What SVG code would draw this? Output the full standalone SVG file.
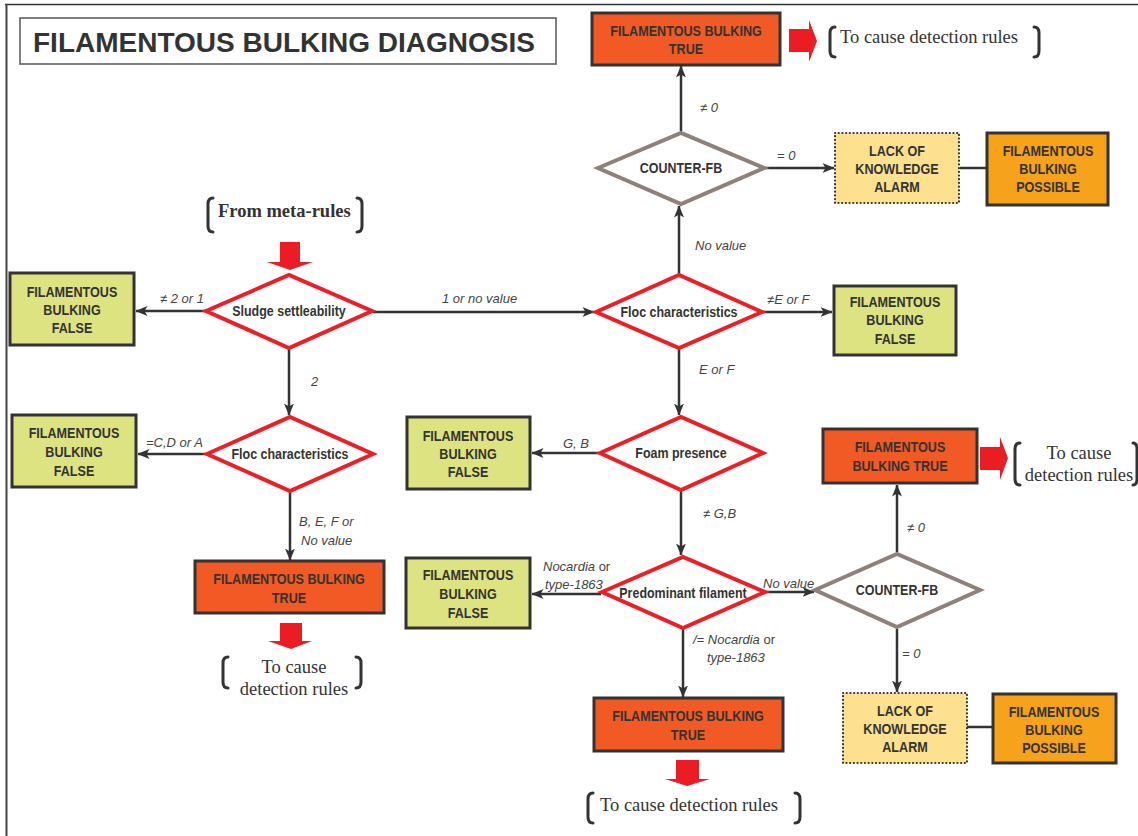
<svg xmlns="http://www.w3.org/2000/svg" width="1138" height="836" viewBox="0 0 1138 836">
  <defs>
    <marker id="arr" markerUnits="userSpaceOnUse" markerWidth="12" markerHeight="10" viewBox="0 0 12 10" refX="11.5" refY="5" orient="auto">
      <path d="M0,0 L12,5 L0,10 L3,5 Z" fill="#333"/>
    </marker>
    <style>
      .box{stroke:#333;stroke-width:3}
      .false{fill:#dde381}
      .true{fill:#f15a24}
      .possible{fill:#f7a21b}
      .alarm{fill:#fee18f;stroke:#333;stroke-width:2.2;stroke-dasharray:0.1 3.6;stroke-linecap:round}
      .dec{fill:#fff;stroke:#ec1f26;stroke-width:4;stroke-linejoin:miter}
      .cnt{fill:#fff;stroke:#8e817b;stroke-width:4}
      .lbl{font-family:"Liberation Sans",Arial,sans-serif;font-weight:bold;font-size:15px;fill:#333;text-anchor:middle}
      .dlbl{font-family:"Liberation Sans",Arial,sans-serif;font-weight:bold;font-size:14.5px;fill:#333;text-anchor:middle}
      .cond{font-family:"Liberation Sans",Arial,sans-serif;font-style:italic;font-size:13px;fill:#444}
      .ser{font-family:"Liberation Serif","Times New Roman",serif;font-size:18.5px;fill:#333}
      .conn{stroke:#333;stroke-width:2.5;fill:none}
      .brk{stroke:#333;stroke-width:3;fill:none;stroke-linecap:round}
      .red{fill:#ec1c24}
      .up{font-style:normal}
    </style>
  </defs>

  <!-- page frame -->
  <g id="frame">
    <line x1="5" y1="4.5" x2="1138" y2="4.5" stroke="#333" stroke-width="1.5"/>
    <line x1="6.5" y1="4" x2="6.5" y2="836" stroke="#444" stroke-width="2"/>
  </g>

  <g id="title">
    <rect x="20" y="18" width="536" height="46" fill="#fff" stroke="#555" stroke-width="1.5"/>
    <text x="33" y="52" font-family="'Liberation Sans',Arial,sans-serif" font-weight="bold" font-size="28" fill="#333">FILAMENTOUS BULKING DIAGNOSIS</text>
  </g>

  <!-- connectors -->
  <g id="connectors">
    <line class="conn" x1="681" y1="131" x2="681" y2="66" marker-end="url(#arr)"/>
    <line class="conn" x1="764" y1="168" x2="834" y2="168" marker-end="url(#arr)"/>
    <line class="conn" x1="960" y1="168" x2="987" y2="168"/>
    <line class="conn" x1="679" y1="274" x2="679" y2="206" marker-end="url(#arr)"/>
    <line class="conn" x1="373" y1="312" x2="594" y2="312" marker-end="url(#arr)"/>
    <line class="conn" x1="762" y1="312" x2="832" y2="312" marker-end="url(#arr)"/>
    <line class="conn" x1="205" y1="311" x2="136" y2="311" marker-end="url(#arr)"/>
    <line class="conn" x1="289" y1="349" x2="289" y2="415" marker-end="url(#arr)"/>
    <line class="conn" x1="206" y1="454" x2="138" y2="454" marker-end="url(#arr)"/>
    <line class="conn" x1="290" y1="492" x2="290" y2="560" marker-end="url(#arr)"/>
    <line class="conn" x1="679" y1="349" x2="679" y2="415" marker-end="url(#arr)"/>
    <line class="conn" x1="599" y1="453" x2="532" y2="453" marker-end="url(#arr)"/>
    <line class="conn" x1="681" y1="491" x2="681" y2="555" marker-end="url(#arr)"/>
    <line class="conn" x1="601" y1="594" x2="532" y2="594" marker-end="url(#arr)"/>
    <line class="conn" x1="766" y1="592" x2="814" y2="592" marker-end="url(#arr)"/>
    <line class="conn" x1="683" y1="629" x2="683" y2="697" marker-end="url(#arr)"/>
    <line class="conn" x1="897" y1="552" x2="897" y2="485" marker-end="url(#arr)"/>
    <line class="conn" x1="897" y1="629" x2="897" y2="692" marker-end="url(#arr)"/>
    <line class="conn" x1="967" y1="727" x2="993" y2="727"/>

    <!-- condition labels -->
    <text class="cond" x="700" y="112">≠ 0</text>
    <text class="cond" x="777" y="160">= 0</text>
    <text class="cond" x="695" y="250">No value</text>
    <text class="cond" x="442" y="303">1 or no value</text>
    <text class="cond" x="767" y="304">≠E or F</text>
    <text class="cond" x="160" y="303">≠ 2 or 1</text>
    <text class="cond" x="311" y="386">2</text>
    <text class="cond" x="146" y="447">=C,D or A</text>
    <text class="cond" x="299" y="526">B, E, F or</text>
    <text class="cond" x="301" y="545">No value</text>
    <text class="cond" x="699" y="374">E or F</text>
    <text class="cond" x="563" y="448">G, B</text>
    <text class="cond" x="703" y="518">≠ G,B</text>
    <text class="cond" x="543" y="571">Nocardia <tspan class="up">or</tspan></text>
    <text class="cond" x="545" y="589">type-1863</text>
    <text class="cond" x="763" y="588">No value</text>
    <text class="cond" x="693" y="644">/= Nocardia <tspan class="up">or</tspan></text>
    <text class="cond" x="707" y="662">type-1863</text>
    <text class="cond" x="907" y="532">≠ 0</text>
    <text class="cond" x="902" y="658">= 0</text>
  </g>

  <!-- entry from meta-rules -->
  <g id="from-meta-rules">
    <path class="brk" d="M213,198 Q208,198 208,204 V226 Q208,232 213,232"/>
    <path class="brk" d="M357,198 Q362,198 362,204 V226 Q362,232 357,232"/>
    <text x="218" y="217" font-family="'Liberation Serif','Times New Roman',serif" font-weight="bold" font-size="18.5" fill="#333">From meta-rules</text>
    <polygon class="red" points="280,242 300,242 300,262 313,262 290,270 267,262 280,262"/>
  </g>

  <g id="sludge-settleability">
    <polygon class="dec" points="206,311 289,275 372,311 289,348"/>
    <text class="dlbl" transform="translate(289 0) scale(.86 1)" y="316">Sludge settleability</text>
  </g>

  <g id="false-1">
    <rect class="box false" x="10" y="273" width="124" height="72"/>
    <text class="lbl" transform="translate(72 0) scale(.84 1)"><tspan x="0" y="297">FILAMENTOUS</tspan><tspan x="0" y="315">BULKING</tspan><tspan x="0" y="333">FALSE</tspan></text>
  </g>

  <g id="floc-characteristics-2">
    <polygon class="dec" points="207,454 290,417 373,454 290,491"/>
    <text class="dlbl" transform="translate(290 0) scale(.86 1)" y="459">Floc characteristics</text>
  </g>

  <g id="false-2">
    <rect class="box false" x="12" y="415" width="124" height="72"/>
    <text class="lbl" transform="translate(74 0) scale(.84 1)"><tspan x="0" y="438">FILAMENTOUS</tspan><tspan x="0" y="457">BULKING</tspan><tspan x="0" y="476">FALSE</tspan></text>
  </g>

  <g id="true-1">
    <rect class="box true" x="195" y="561" width="189" height="52"/>
    <text class="lbl" transform="translate(289 0) scale(.84 1)"><tspan x="0" y="584">FILAMENTOUS BULKING</tspan><tspan x="0" y="603">TRUE</tspan></text>
    <polygon class="red" points="280,623 302,623 302,641 312,641 291,649 268,641 280,641"/>
    <path class="brk" d="M228,657 Q223,657 223,663 V682 Q223,688 228,688"/>
    <path class="brk" d="M356,657 Q361,657 361,663 V682 Q361,688 356,688"/>
    <text class="ser" text-anchor="middle"><tspan x="294" y="673">To cause</tspan><tspan x="294" y="695">detection rules</tspan></text>
  </g>

  <g id="floc-characteristics-1">
    <polygon class="dec" points="596,312 679,275 762,312 679,348"/>
    <text class="dlbl" transform="translate(679 0) scale(.86 1)" y="317">Floc characteristics</text>
  </g>

  <g id="false-3">
    <rect class="box false" x="834" y="286" width="122" height="69"/>
    <text class="lbl" transform="translate(895 0) scale(.84 1)"><tspan x="0" y="307">FILAMENTOUS</tspan><tspan x="0" y="325">BULKING</tspan><tspan x="0" y="344">FALSE</tspan></text>
  </g>

  <g id="counter-fb-1">
    <polygon class="cnt" points="598,168 681,133 764,168 681,204"/>
    <text class="dlbl" transform="translate(681 0) scale(.86 1)" y="173">COUNTER-FB</text>
  </g>

  <g id="true-2">
    <rect class="box true" x="592" y="13" width="188" height="52"/>
    <text class="lbl" transform="translate(686 0) scale(.84 1)"><tspan x="0" y="36">FILAMENTOUS BULKING</tspan><tspan x="0" y="54">TRUE</tspan></text>
    <polygon class="red" points="789,29 809,29 809,20 817,41 809,62 809,52 789,52"/>
    <path class="brk" d="M835,27 Q830,27 830,33 V51 Q830,57 835,57"/>
    <path class="brk" d="M1034,27 Q1039,27 1039,33 V51 Q1039,57 1034,57"/>
    <text class="ser" x="840" y="43">To cause detection rules</text>
  </g>

  <g id="alarm-1">
    <rect class="alarm" x="835" y="133" width="124" height="70"/>
    <text class="lbl" transform="translate(897 0) scale(.84 1)"><tspan x="0" y="156">LACK OF</tspan><tspan x="0" y="174">KNOWLEDGE</tspan><tspan x="0" y="192">ALARM</tspan></text>
  </g>

  <g id="possible-1">
    <rect class="box possible" x="987" y="133" width="121" height="72"/>
    <text class="lbl" transform="translate(1048 0) scale(.84 1)"><tspan x="0" y="156">FILAMENTOUS</tspan><tspan x="0" y="174">BULKING</tspan><tspan x="0" y="192">POSSIBLE</tspan></text>
  </g>

  <g id="foam-presence">
    <polygon class="dec" points="600,453 681,417 763,453 681,490"/>
    <text class="dlbl" transform="translate(681 0) scale(.86 1)" y="458">Foam presence</text>
  </g>

  <g id="false-4">
    <rect class="box false" x="407" y="417" width="123" height="72"/>
    <text class="lbl" transform="translate(468 0) scale(.84 1)"><tspan x="0" y="441">FILAMENTOUS</tspan><tspan x="0" y="459">BULKING</tspan><tspan x="0" y="477">FALSE</tspan></text>
  </g>

  <g id="predominant-filament">
    <polygon class="dec" points="602,592 683,557 765,592 683,628"/>
    <text class="dlbl" transform="translate(683 0) scale(.86 1)" y="598">Predominant filament</text>
  </g>

  <g id="false-5">
    <rect class="box false" x="406" y="558" width="124" height="70"/>
    <text class="lbl" transform="translate(468 0) scale(.84 1)"><tspan x="0" y="580">FILAMENTOUS</tspan><tspan x="0" y="599">BULKING</tspan><tspan x="0" y="618">FALSE</tspan></text>
  </g>

  <g id="true-3">
    <rect class="box true" x="594" y="698" width="189" height="53"/>
    <text class="lbl" transform="translate(688 0) scale(.84 1)"><tspan x="0" y="721">FILAMENTOUS BULKING</tspan><tspan x="0" y="740">TRUE</tspan></text>
    <polygon class="red" points="676,760 699,760 699,779 710,779 687,786 665,779 676,779"/>
    <path class="brk" d="M593,793 Q588,793 588,799 V817 Q588,823 593,823"/>
    <path class="brk" d="M795,793 Q800,793 800,799 V817 Q800,823 795,823"/>
    <text class="ser" x="600" y="811">To cause detection rules</text>
  </g>

  <g id="counter-fb-2">
    <polygon class="cnt" points="815,590 897,554 980,590 897,627"/>
    <text class="dlbl" transform="translate(897 0) scale(.86 1)" y="595">COUNTER-FB</text>
  </g>

  <g id="true-4">
    <rect class="box true" x="823" y="429" width="154" height="54"/>
    <text class="lbl" transform="translate(900 0) scale(.84 1)"><tspan x="0" y="452">FILAMENTOUS</tspan><tspan x="0" y="471">BULKING TRUE</tspan></text>
    <polygon class="red" points="980,447 1000,447 1000,437 1008,458 1000,480 1000,470 980,470"/>
    <path class="brk" d="M1020,443 Q1015,443 1015,449 V479 Q1015,485 1020,485"/>
    <path class="brk" d="M1133,443 Q1137,443 1137,449 V479 Q1137,485 1133,485"/>
    <text class="ser" text-anchor="middle"><tspan x="1079" y="459">To cause</tspan><tspan x="1079" y="481">detection rules</tspan></text>
  </g>

  <g id="alarm-2">
    <rect class="alarm" x="843" y="693" width="124" height="70"/>
    <text class="lbl" transform="translate(905 0) scale(.84 1)"><tspan x="0" y="716">LACK OF</tspan><tspan x="0" y="734">KNOWLEDGE</tspan><tspan x="0" y="752">ALARM</tspan></text>
  </g>

  <g id="possible-2">
    <rect class="box possible" x="993" y="694" width="123" height="69"/>
    <text class="lbl" transform="translate(1054 0) scale(.84 1)"><tspan x="0" y="717">FILAMENTOUS</tspan><tspan x="0" y="735">BULKING</tspan><tspan x="0" y="753">POSSIBLE</tspan></text>
  </g>
</svg>
